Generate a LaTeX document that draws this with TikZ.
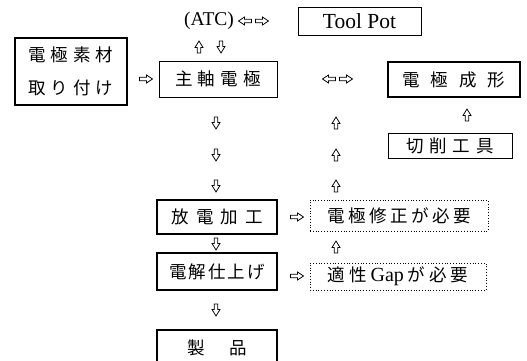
\documentclass[tikz,border=0pt]{standalone}
\usepackage{fontspec}
\setmainfont{Liberation Serif}
\newfontfamily\jp{Noto Sans CJK JP}
\newcommand\gp[1]{\hspace{#1pt}}
\tikzset{
  box/.style={draw, line width=0.8pt, inner sep=0pt, font=\jp\fontsize{17.5}{19}\selectfont},
  thickbox/.style={box, line width=1.7pt},
  dotbox/.style={box, dotted, line width=0.8pt},
  lat/.style={inner sep=0pt, font=\fontsize{19.5}{21}\selectfont},
  arr/.style={line width=0.75pt},
  pics/rarr/.style={code={\draw[arr] (-6.5,-1.8) -- (0.5,-1.8) -- (0.5,-4) -- (6.5,0) -- (0.5,4) -- (0.5,1.8) -- (-6.5,1.8) -- cycle;}},
  pics/larr/.style={code={\draw[arr] (6.5,-1.8) -- (-0.5,-1.8) -- (-0.5,-4) -- (-6.5,0) -- (-0.5,4) -- (-0.5,1.8) -- (6.5,1.8) -- cycle;}},
  pics/uarr/.style={code={\draw[arr] (-1.8,6) -- (-1.8,0.5) -- (-4,0.5) -- (0,-6) -- (4,0.5) -- (1.8,0.5) -- (1.8,6) -- cycle;}},
  pics/darr/.style={code={\draw[arr] (-1.8,-6) -- (-1.8,-0.5) -- (-4,-0.5) -- (0,6) -- (4,-0.5) -- (1.8,-0.5) -- (1.8,-6) -- cycle;}},
}
\begin{document}
\begin{tikzpicture}[x=1pt,y=-1pt]
\useasboundingbox (0,0) rectangle (527,361);
\clip (0,0) rectangle (527,361);
% boxes
\node[box, minimum width=123pt, minimum height=28pt, font=\fontsize{21.5}{23}\selectfont] (toolpot) at (359.5,21) {Tool Pot};
\node[lat] (atc) at (209,21) {(ATC)};
\node[box, line width=1.2pt, minimum width=112pt, minimum height=67pt, align=center, font=\jp\fontsize{17.5}{33}\selectfont] (sozai) at (71,71.5) {電\gp5極\gp5素\gp5材\\取\gp5り\gp5付\gp5け};
\node[box, minimum width=118pt, minimum height=36pt] (shujiku) at (218,79) {主\gp5軸\gp5電\gp5極};
\node[thickbox, minimum width=132pt, minimum height=35pt] (seikei) at (454,79.5) {電\gp{11}極\gp{11}成\gp{11}形};
\node[box, minimum width=124pt, minimum height=25pt] (sessaku) at (450,145.5) {切\gp6削\gp6工\gp6具};
\node[thickbox, minimum width=120pt, minimum height=34pt] (hoden) at (217,217) {放\gp7電\gp7加\gp7工};
\node[dotbox, minimum width=178pt, minimum height=31pt] (shusei) at (399,215.5) {電\gp{3.5}極\gp{3.5}修\gp{3.5}正\gp{3.5}が\gp{3.5}必\gp{3.5}要};
\node[thickbox, minimum width=120pt, minimum height=37pt] (denkai) at (217,271.5) {電\gp2解\gp2仕\gp2上\gp2げ};
\node[dotbox, minimum width=176pt, minimum height=27pt] (gap) at (398,276.5) {適\gp4性\gp4{\rmfamily\fontsize{20}{22}\selectfont Gap}\gp4が\gp4必\gp4要};
\node[box, line width=1.2pt, minimum width=120pt, minimum height=50pt,
  label={[font=\jp\fontsize{17.5}{19}\selectfont, yshift=7pt]center:製\gp{25}品}] (seihin) at (217,355) {};
% arrows
\pic at (245,21) {larr}; \pic at (262,21) {rarr};
\pic at (199,47) {uarr}; \pic at (221,47) {darr};
\pic at (146,79) {rarr};
\pic at (329,79) {larr}; \pic at (346,79) {rarr};
\pic at (216,123) {darr}; \pic at (216,155) {darr}; \pic at (216,186) {darr};
\pic at (336,123) {uarr}; \pic at (336,155) {uarr}; \pic at (336,186) {uarr};
\pic at (467,115) {uarr};
\pic at (297,217) {rarr};
\pic at (216,244) {darr};
\pic at (336,247) {uarr};
\pic at (297,276) {rarr};
\pic at (216,310) {darr};
\end{tikzpicture}
\end{document}
